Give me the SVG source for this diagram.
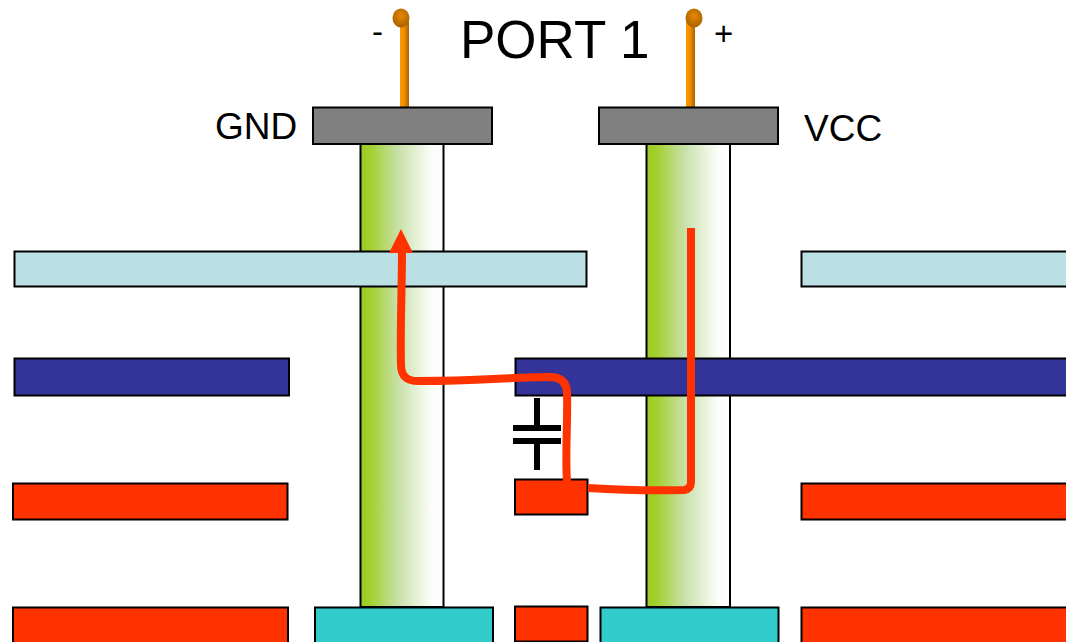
<svg xmlns="http://www.w3.org/2000/svg" width="1066" height="642" viewBox="0 0 1066 642">
<defs>
<linearGradient id="barrel" x1="0" y1="0" x2="1" y2="0"><stop offset="0" stop-color="#99cc22"/><stop offset="0.12" stop-color="#a3d02f"/><stop offset="0.45" stop-color="#c8e0a8"/><stop offset="0.85" stop-color="#fbfdf8"/><stop offset="1" stop-color="#ffffff"/></linearGradient>
<linearGradient id="lead" x1="0" y1="0" x2="1" y2="0"><stop offset="0" stop-color="#ff9900"/><stop offset="0.5" stop-color="#ee8c00"/><stop offset="1" stop-color="#a86200"/></linearGradient>
<radialGradient id="ball" cx="0.5" cy="0.4" r="0.6"><stop offset="0" stop-color="#e88800"/><stop offset="1" stop-color="#a86200"/></radialGradient>
<style>
.s{stroke:#000;stroke-width:2}
.grey{fill:#808080}.lb{fill:#bbe0e3}.navy{fill:#333399}.red{fill:#ff3300}.teal{fill:#33cccc}.bar{fill:url(#barrel)}
.t{font-family:"Liberation Sans",Arial,sans-serif;fill:#000}
.tr{fill:none;stroke:#ff3300;stroke-width:8;stroke-linejoin:round}
</style>
</defs>
<rect width="1066" height="642" fill="#fff"/>
<g id="barrel-gnd"><rect class="s bar" x="360.500" y="144" width="83" height="463"/></g>
<g id="barrel-vcc"><rect class="s bar" x="646.500" y="144" width="83.500" height="463"/></g>
<g id="lead-minus"><rect x="400" y="22" width="9" height="86" fill="url(#lead)"/><ellipse cx="401" cy="18" rx="8.500" ry="9.500" fill="url(#ball)"/></g>
<g id="lead-plus"><rect x="686" y="22" width="9" height="86" fill="url(#lead)"/><ellipse cx="694" cy="18" rx="8.500" ry="9.500" fill="url(#ball)"/></g>
<g id="pad-gnd"><rect class="s grey" x="313" y="107.500" width="179" height="36.500"/></g>
<g id="pad-vcc"><rect class="s grey" x="599" y="107.500" width="179" height="36.500"/></g>
<g id="plane-lb-left"><rect class="s lb" x="14.500" y="251.500" width="572" height="35"/></g>
<g id="plane-lb-right"><rect class="s lb" x="801.500" y="251.500" width="270" height="35"/></g>
<g id="plane-navy-left"><rect class="s navy" x="14.500" y="358.500" width="274.500" height="37"/></g>
<g id="plane-navy-right"><rect class="s navy" x="515.500" y="358.500" width="556" height="37"/></g>
<g id="plane-red-left"><rect class="s red" x="13" y="483.500" width="274.500" height="36"/></g>
<g id="pad-red-mid"><rect class="s red" x="515" y="479.500" width="72.500" height="35"/></g>
<g id="plane-red-right"><rect class="s red" x="801.500" y="483.500" width="270" height="36"/></g>
<g id="plane-red-bottom-left"><rect class="s red" x="13" y="607.500" width="275" height="40"/></g>
<g id="pad-red-bottom"><rect class="s red" x="515" y="606.500" width="72.500" height="35"/></g>
<g id="plane-red-bottom-right"><rect class="s red" x="801.500" y="607.500" width="270" height="40"/></g>
<g id="pad-teal-left"><rect class="s teal" x="315" y="607.500" width="178" height="40"/></g>
<g id="pad-teal-right"><rect class="s teal" x="600.500" y="607.500" width="178" height="40"/></g>
<g id="capacitor" fill="#000"><rect x="534" y="398" width="6" height="28"/><rect x="513" y="425" width="48" height="6"/><rect x="513" y="438" width="48" height="6"/><rect x="534" y="443" width="6" height="27"/></g>
<g id="connectors">
<path class="tr" d="M691 228V482Q691 489 684 490C650 491 620 490 588 488M567 482C565 450 568 420 567 392Q566 378 552 377C510 377 480 381 420 381Q401 382 401 365C400 330 402 290 402 250"/>
<path fill="#ff3300" d="M401 229L413 253H389Z"/>
</g>
<g id="labels" class="t">
<text class="t" x="460" y="58" font-size="53">PORT 1</text>
<text class="t" x="372" y="43" font-size="33">-</text>
<text class="t" x="714" y="45" font-size="33">+</text>
<text class="t" x="215" y="139" font-size="37">GND</text>
<text class="t" x="804" y="141" font-size="37">VCC</text>
</g>
</svg>
